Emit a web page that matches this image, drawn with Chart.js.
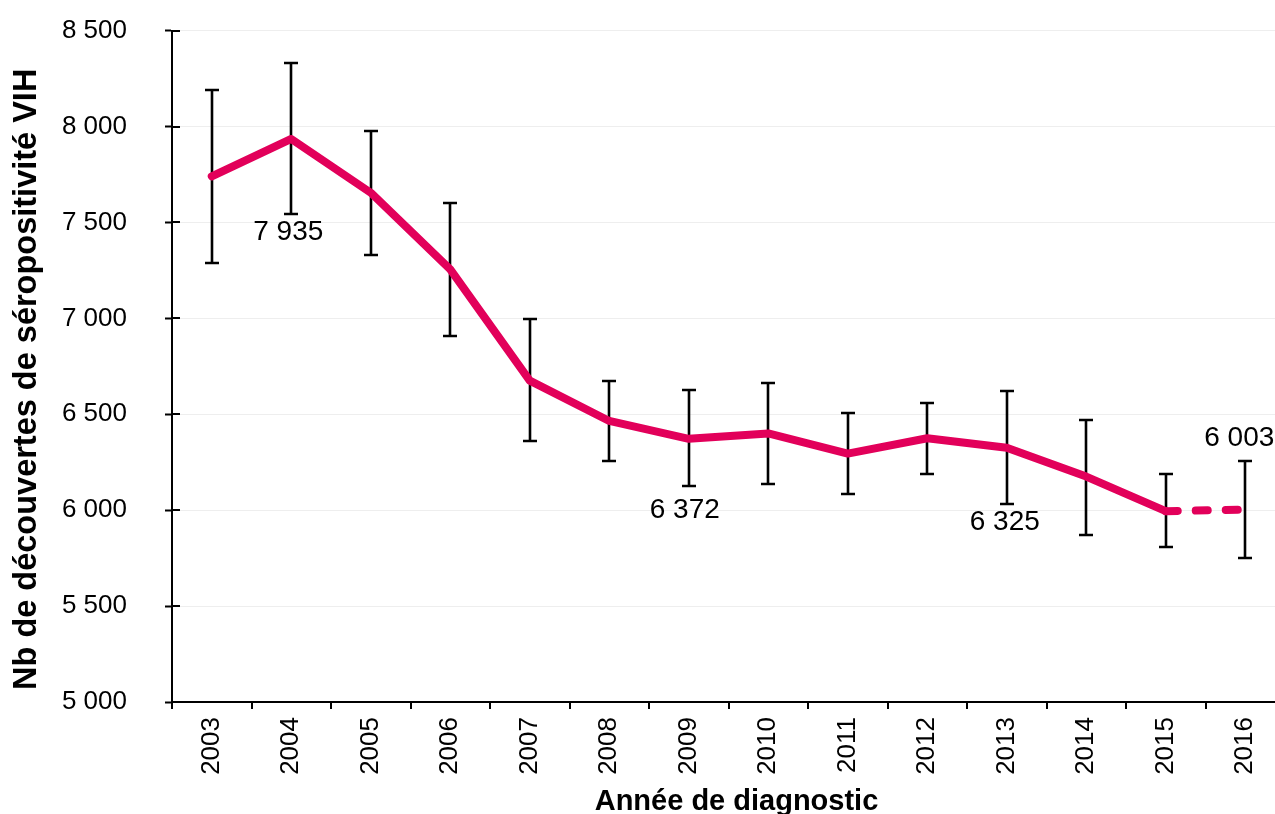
<!DOCTYPE html>
<html><head><meta charset="utf-8">
<script src="https://cdn.jsdelivr.net/npm/chart.js@4/dist/chart.umd.min.js"></script>
<style>
html,body{margin:0;padding:0;background:#fff;overflow:hidden}
#wrap{width:1275px;height:814px;overflow:hidden;position:relative;background:#fff}
canvas{display:block;margin-top:-23px}
</style></head><body>
<div id="wrap"><canvas id="c" width="1300" height="842"></canvas></div>
<script>
// ---- data ----
const years = ['2003','2004','2005','2006','2007','2008','2009','2010','2011','2012','2013','2014','2015','2016'];
const values = [7740, 7935, 7655, 7255, 6675, 6465, 6372, 6400, 6295, 6375, 6325, 6175, 5995, 6003];
const lower  = [7288, 7545, 7332, 6906, 6359, 6254, 6125, 6139, 6082, 6188, 6031, 5871, 5809, 5752];
const upper  = [8189, 8332, 7978, 7599, 6995, 6672, 6625, 6665, 6507, 6561, 6623, 6472, 6188, 6257];
const provisional = [false,false,false,false,false,false,false,false,false,false,false,false,false,true];
const labelledYears = ['2004','2009','2013','2016'];
const yTicks = [5000, 5500, 6000, 6500, 7000, 7500, 8000, 8500];
const yTitle = 'Nb de découvertes de séropositivité VIH';
const xTitle = 'Année de diagnostic';

const fmt = v => String(Math.round(v)).replace(/\B(?=(\d{3})+(?!\d))/g, ' ');
Chart.defaults.font.family = "'Liberation Sans', Arial, Helvetica, sans-serif";
Chart.defaults.color = '#000';

const extras = {
  id: 'extras',
  beforeDatasetsDraw(chart) {
    const {ctx, scales: {x, y}} = chart;
    ctx.save();
    ctx.strokeStyle = '#000';
    ctx.lineWidth = 2;
    // inner part of y tick marks
    yTicks.forEach(v => {
      const py = Math.round(y.getPixelForValue(v));
      ctx.beginPath(); ctx.moveTo(x.left, py); ctx.lineTo(x.left + 8, py); ctx.stroke();
    });
    // error bars
    const cap = 7;
    ctx.lineWidth = 2.6;
    years.forEach((yr, i) => {
      const px = Math.round(x.getPixelForValue(i));
      const t = Math.round(y.getPixelForValue(upper[i]));
      const b = Math.round(y.getPixelForValue(lower[i]));
      ctx.beginPath();
      ctx.moveTo(px, t); ctx.lineTo(px, b);
      ctx.moveTo(px - cap, t); ctx.lineTo(px + cap, t);
      ctx.moveTo(px - cap, b); ctx.lineTo(px + cap, b);
      ctx.stroke();
    });
    ctx.restore();
  },
  afterDatasetsDraw(chart, args, opts) {
    const {ctx, scales: {x, y}} = chart;
    ctx.save();
    ctx.font = "28px 'Liberation Sans', Arial, sans-serif";
    ctx.fillStyle = '#000';
    ctx.textAlign = 'center';
    ctx.textBaseline = 'middle';
    labelledYears.forEach(yr => {
      const i = years.indexOf(yr);
      const px = x.getPixelForValue(i) + (opts.dx[yr] || 0);
      const py = y.getPixelForValue(values[i]) + opts.dy[yr];
      ctx.fillText(fmt(values[i]), px, py);
    });
    // axis titles
    const ca = chart.chartArea;
    ctx.font = "bold 32.5px 'Liberation Sans', Arial, sans-serif";
    ctx.save();
    ctx.translate(opts.yTitleX, (ca.top + ca.bottom) / 2 + opts.yTitleDy);
    ctx.rotate(-Math.PI / 2);
    ctx.fillText(yTitle, 0, 0);
    ctx.restore();
    ctx.font = "bold 29px 'Liberation Sans', Arial, sans-serif";
    ctx.fillText(xTitle, (ca.left + ca.right) / 2 + opts.xTitleDx, chart.height - opts.xTitleFromBottom);
    ctx.restore();
  }
};

new Chart(document.getElementById('c'), {
  type: 'line',
  data: {
    labels: years,
    datasets: [{
      data: values,
      borderColor: '#E2005A',
      borderWidth: 8,
      borderCapStyle: 'round',
      borderJoinStyle: 'round',
      pointRadius: 0,
      tension: 0,
      segment: {
        borderDash: ctx => provisional[ctx.p1DataIndex] ? [12, 18] : undefined
      }
    }]
  },
  options: {
    responsive: false,
    animation: false,
    events: [],
    layout: { padding: { top: 30, right: 15, left: 0, bottom: 0 } },
    plugins: {
      legend: { display: false },
      tooltip: { enabled: false },
      extras: {
        dx: { '2004': -3, '2009': -4, '2013': -2, '2016': -6 },
        dy: { '2004': 93, '2009': 71, '2013': 74, '2016': -71 },
        yTitleX: 27.5, yTitleDy: 13,
        xTitleDx: 8, xTitleFromBottom: 17.4
      }
    },
    scales: {
      x: {
        offset: true,
        grid: { display: true, drawOnChartArea: false, offset: true, color: '#000', tickColor: '#000', tickLength: 7, lineWidth: 2 },
        border: { display: true, color: '#000', width: 2 },
        ticks: { autoSkip: false, minRotation: 90, maxRotation: 90, padding: 8, font: { size: 26 }, color: '#000' },
        title: { display: false, text: xTitle },
        afterFit: s => { s.height = 117; }
      },
      y: {
        min: 5000, max: 8500,
        afterBuildTicks: s => { s.ticks = yTicks.map(v => ({ value: v })); },
        grid: { color: '#eeeeee', lineWidth: 1, tickColor: '#000', tickLength: 7, tickWidth: 2 },
        border: { display: true, color: '#000', width: 2 },
        ticks: { padding: 38, font: { size: 26 }, color: '#000', callback: v => fmt(v) },
        title: { display: false, text: yTitle },
        afterFit: s => { s.width = 172; }
      }
    }
  },
  plugins: [extras]
});
</script>
</body></html>
